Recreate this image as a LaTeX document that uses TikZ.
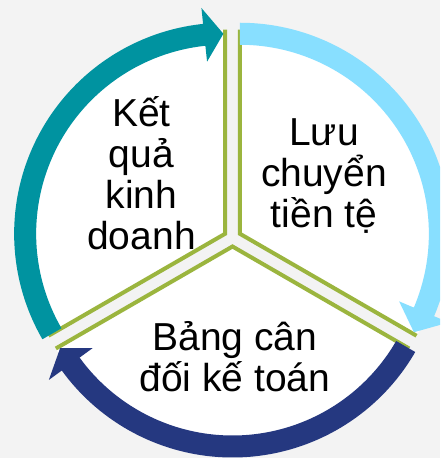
\documentclass[tikz,border=0pt]{standalone}
\usepackage{fontspec}
\setmainfont{Liberation Sans}
\usetikzlibrary{calc}
\definecolor{bgc}{RGB}{243,243,243}
\definecolor{tealc}{RGB}{0,147,160}
\definecolor{lightc}{RGB}{136,223,255}
\definecolor{darkc}{RGB}{37,56,128}
\definecolor{greenc}{RGB}{155,181,62}
\tikzset{
  wedgefill/.style={fill=white},
  wedgeedge/.style={draw=greenc, line width=4pt, line join=miter},
  lbl/.style={anchor=base, align=center, font=\fontsize{39}{41}\selectfont, inner sep=0pt},
}
\begin{document}
\begin{tikzpicture}[x=1pt,y=1pt]
\useasboundingbox (0,0) rectangle (440,458);
\clip (0,0) rectangle (440,458);
\fill[bgc] (0,0) rectangle (440,458);
\coordinate (L) at (225.14,224.25);
\coordinate (R) at (239.86,224.25);
\coordinate (B) at (232.5,211.5);
% wedges
\fill[wedgefill] (L) -- ++(90:204) arc[start angle=90, end angle=210, radius=204] -- cycle;
\fill[wedgefill] (R) -- ++(-30:204) arc[start angle=-30, end angle=90, radius=204] -- cycle;
\fill[wedgefill] (B) -- ++(210:204) arc[start angle=210, end angle=330, radius=204] -- cycle;
% wedge edges
\coordinate (La) at ($(L)+(90:204)$);
\coordinate (Lb) at ($(L)+(210:204)$);
\coordinate (Ra) at ($(R)+(90:204)$);
\coordinate (Rb) at ($(R)+(-30:204)$);
\coordinate (Ba) at ($(B)+(210:204)$);
\coordinate (Bb) at ($(B)+(-30:204)$);
\draw[wedgeedge] (La) -- (L) -- (Lb);
\draw[wedgeedge] (Ra) -- (R) -- (Rb);
\draw[wedgeedge] (Ba) -- (B) -- (Bb);
% circular arrows
\begin{scope}[shift={(L)}]
\fill[tealc] (210:211) arc[start angle=210, end angle=96, radius=211]
  -- (96:227) -- (90.5:200) -- (96:173) -- (96:189)
  arc[start angle=96, end angle=210, radius=189] -- cycle;
\end{scope}
\begin{scope}[shift={(R)}]
\fill[lightc] (90:211) arc[start angle=90, end angle=-23, radius=211]
  -- (-23:227) -- (-29.5:200) -- (-23:173) -- (-23:189)
  arc[start angle=-23, end angle=90, radius=189] -- cycle;
\end{scope}
\begin{scope}[shift={(B)}]
\fill[darkc] (-30:211) arc[start angle=-30, end angle=-144, radius=211]
  -- (-144:227) -- (-149.5:200) -- (-144:173) -- (-144:189)
  arc[start angle=-144, end angle=-30, radius=189] -- cycle;
\end{scope}
% labels (anchor = baseline of last line)
\node[lbl] (kq) at (141.5,208) {Kết\\quả\\kinh\\doanh};
\node[lbl] (lc) at (324,230) {Lưu\\chuyển\\tiền tệ};
\node[lbl] (bc) at (235,66) {Bảng cân\\đối kế toán};
\end{tikzpicture}
\end{document}
